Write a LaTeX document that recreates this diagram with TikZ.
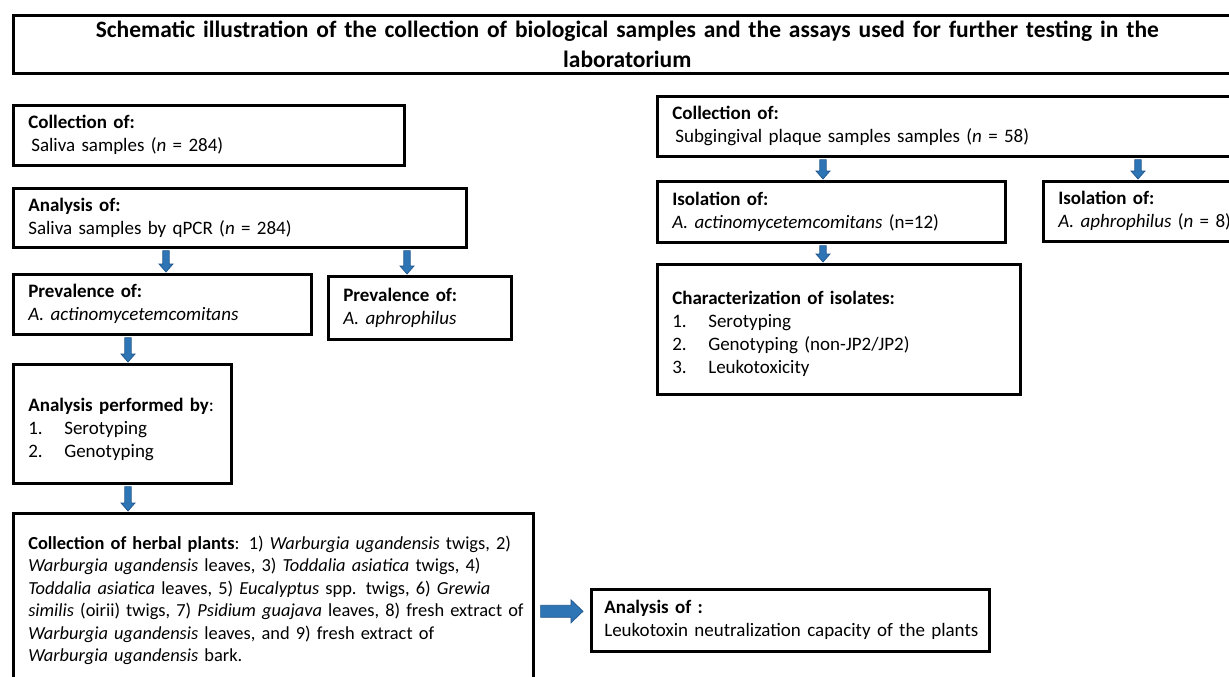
\documentclass[tikz,border=0pt]{standalone}
\usepackage{fontspec}
\setmainfont{Carlito}[WordSpace=0.85]
\usetikzlibrary{calc}
\definecolor{arrblue}{RGB}{46,117,182}
\definecolor{arrdark}{RGB}{32,86,140}
\newcommand{\bodyfnt}{\fontsize{19}{23}\selectfont}
\newcommand{\herbfnt}{\fontsize{18.4}{22.4}\selectfont}
\newcommand{\numitem}[2]{\makebox[36pt][l]{#1}#2}
\newcommand{\topgap}[1]{\rule{0pt}{#1}}
\tikzset{
  box/.style={draw=black, line width=2.6pt, rectangle, anchor=north west,
    inner xsep=15pt, inner ysep=0pt, align=left, font=\bodyfnt},
  darr/.style={fill=arrblue, draw=arrdark, line width=0.7pt,
    to path={let \p1=(\tikztostart), \p2=(\tikztotarget) in
      (\x1-3.2pt,\y1) -- (\x1+3.2pt,\y1) -- (\x1+3.2pt,\y2+8pt) -- (\x1+7pt,\y2+8pt)
      -- (\x1,\y2) -- (\x1-7pt,\y2+8pt) -- (\x1-3.2pt,\y2+8pt) -- cycle}},
  rarr/.style={fill=arrblue, draw=arrdark, line width=0.7pt,
    to path={let \p1=(\tikztostart), \p2=(\tikztotarget) in
      (\x1,\y1-6pt) -- (\x2-12pt,\y1-6pt) -- (\x2-12pt,\y1-11.5pt) -- (\x2,\y1)
      -- (\x2-12pt,\y1+11.5pt) -- (\x2-12pt,\y1+6pt) -- (\x1,\y1+6pt) -- cycle}}
}
\begin{document}
\begin{tikzpicture}[x=1pt,y=-1pt]
\useasboundingbox (0,0) rectangle (1229,677);
\clip (0,0) rectangle (1229,677);
\fill[white] (0,0) rectangle (1229,677);

% title
\node[box, align=center, text width=1198pt, minimum height=58pt,
  font=\fontsize{23.5}{30}\selectfont\bfseries] (title) at (12,14)
  {\mbox{Schematic illustration of the collection of biological samples and the assays used for further testing in the}\\ laboratorium};

% left column
\node[box, text width=361pt, minimum height=60pt] (sal) at (12,104)
  {\textbf{Collection of:}\\\hspace{3pt}Saliva samples (\textit{n} = 284)};
\node[box, text width=423pt, minimum height=59pt] (ana) at (12,187)
  {\textbf{Analysis of:}\\Saliva samples by qPCR (\textit{n} = 284)};
\node[box, text width=268pt, minimum height=60pt] (pa) at (12,273)
  {\textbf{Prevalence of:}\\\textit{A. actinomycetemcomitans}};
\node[box, text width=153pt, minimum height=63pt] (pb) at (327,275)
  {\textbf{Prevalence of:}\\\textit{A. aphrophilus}};
\node[box, text width=188pt, minimum height=119pt] (apb) at (12,363)
  {\topgap{24pt}\textbf{Analysis performed by}:\\\numitem{1.}{Serotyping}\\\numitem{2.}{Genotyping}};
\node[box, text width=490pt, minimum height=174pt, font=\herbfnt] (herb) at (12,512)
  {\mbox{\textbf{Collection of herbal plants}: 1) \textit{Warburgia ugandensis} twigs, 2)}\\
   \mbox{\textit{Warburgia ugandensis} leaves, 3) \textit{Toddalia asiatica} twigs, 4)}\\
   \mbox{\textit{Toddalia asiatica} leaves, 5) \textit{Eucalyptus} spp. twigs, 6) \textit{Grewia}}\\
   \mbox{\textit{similis} (oirii) twigs, 7) \textit{Psidium guajava} leaves, 8) fresh extract of}\\
   \mbox{\textit{Warburgia ugandensis} leaves, and 9) fresh extract of}\\
   \mbox{\textit{Warburgia ugandensis} bark.}};
\node[box, inner xsep=13pt, text width=372pt, minimum height=62pt] (leu) at (590,588)
  {\textbf{Analysis of :}\\\mbox{Leukotoxin neutralization capacity of the plants}};

% right column
\node[box, text width=554pt, minimum height=60pt] (sub) at (656,95)
  {\textbf{Collection of:}\\\hspace{3pt}Subgingival plaque samples samples (\textit{n} = 58)};
\node[box, text width=318pt, minimum height=61pt] (isa) at (656,180)
  {\textbf{Isolation of:}\\\mbox{\textit{A. actinomycetemcomitans} (n=12)}};
\node[box, text width=168pt, minimum height=60pt] (isb) at (1042,180)
  {\textbf{Isolation of:}\\\mbox{\textit{A. aphrophilus} (\textit{n} = 8)}};
\node[box, text width=333pt, minimum height=130pt] (char) at (656,263)
  {\topgap{22pt}\textbf{Characterization of isolates:}\\\numitem{1.}{Serotyping}\\\numitem{2.}{Genotyping (non-JP2/JP2)}\\\numitem{3.}{Leukotoxicity}};

% arrows
\draw[darr] ($(ana.south west)+(154,2)$) to ($(pa.north west)+(154,-1)$);
\draw[darr] ($(ana.south west)+(395,2)$) to ($(pb.north west)+(80,-1)$);
\draw[darr] ($(pa.south west)+(116,2)$) to ($(apb.north west)+(116,-1)$);
\draw[darr] ($(apb.south west)+(116,2)$) to ($(herb.north west)+(116,-1)$);
\draw[darr] ($(sub.south west)+(167,2)$) to ($(isa.north west)+(167,-1)$);
\draw[darr] ($(sub.south west)+(482,2)$) to ($(isb.north west)+(96,-1)$);
\draw[darr] ($(isa.south west)+(167,2)$) to ($(char.north west)+(167,-1)$);
\draw[rarr] ($(herb.east |- leu.west)+(6,-9)$) to ($(leu.west)+(-7,-9)$);
\end{tikzpicture}
\end{document}
